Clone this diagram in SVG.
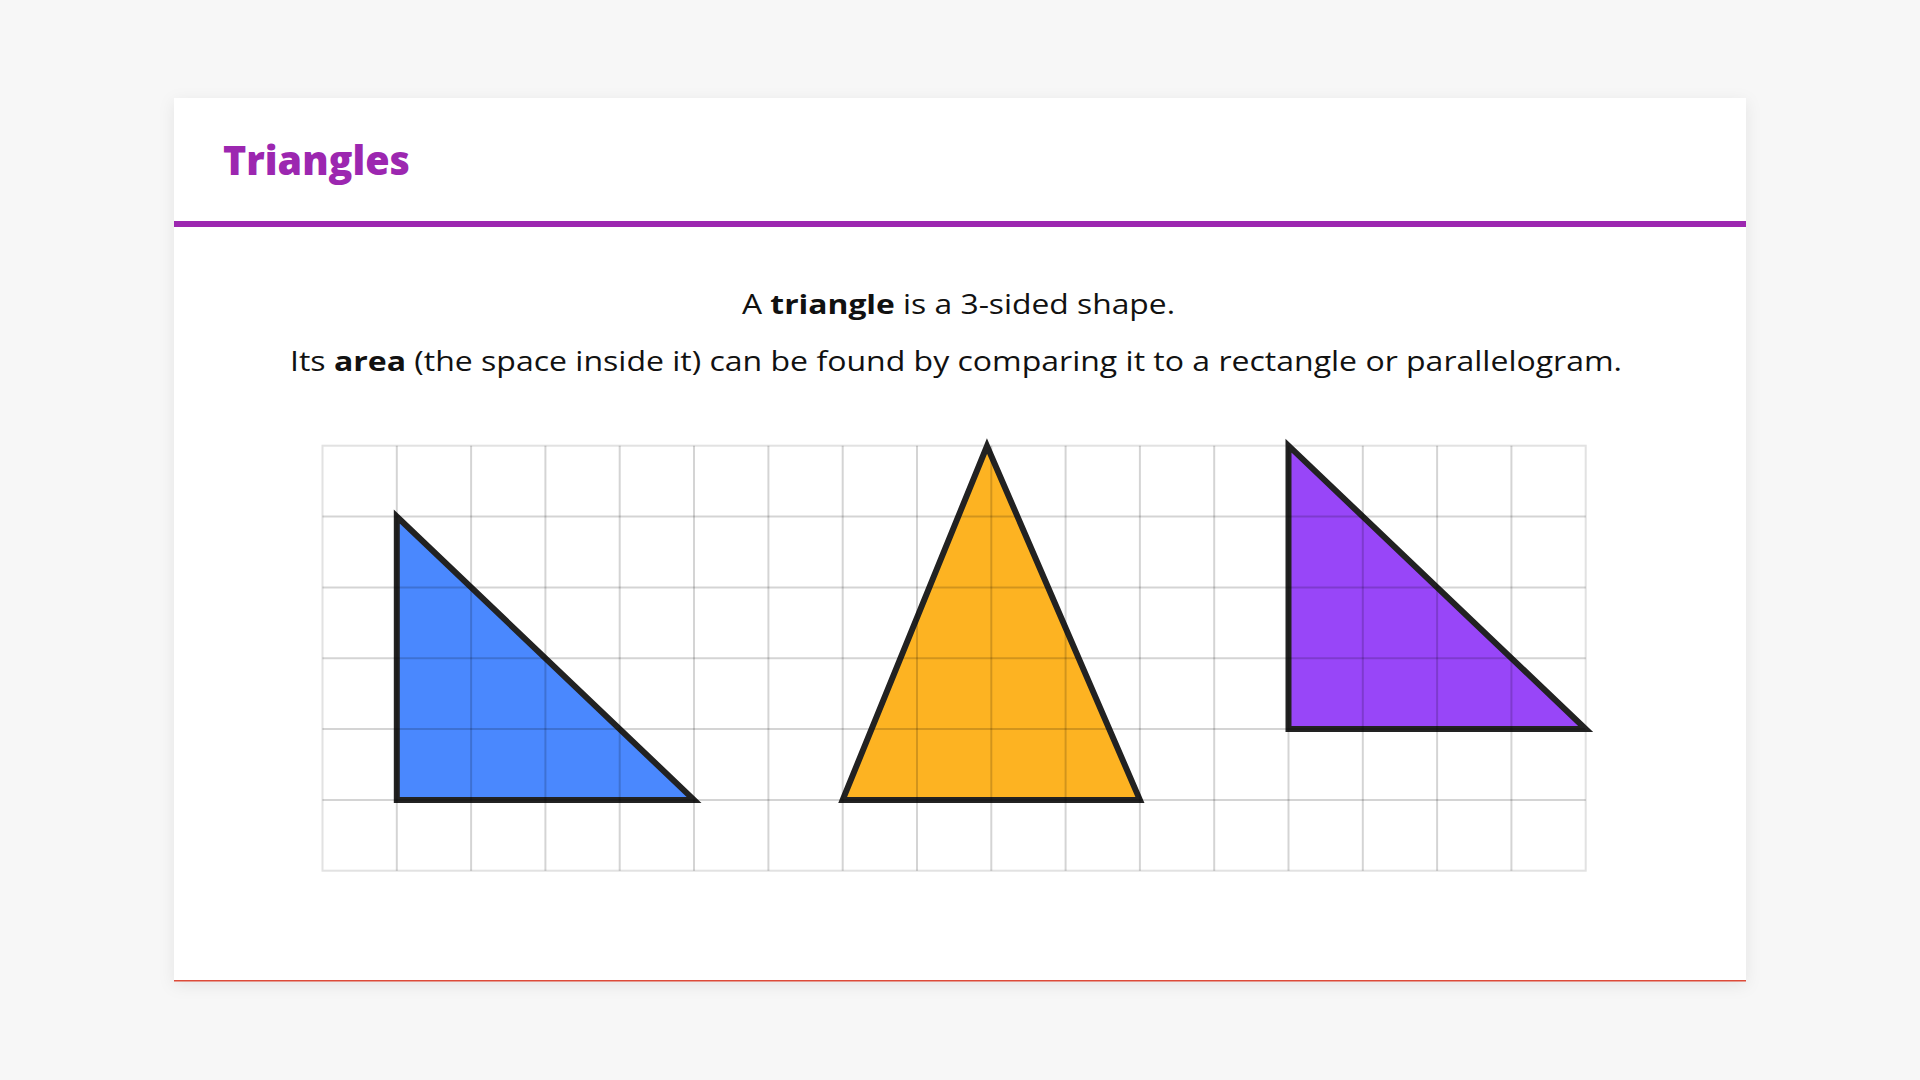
<svg xmlns="http://www.w3.org/2000/svg" width="1920" height="1080" viewBox="0 0 1920 1080">
  <defs>
    <filter id="shadow" x="-5%" y="-5%" width="110%" height="115%">
      <feDropShadow dx="0" dy="4" stdDeviation="8" flood-color="#000" flood-opacity="0.08"/>
    </filter>
    <style>
      .title { font-family: "Open Sans", "Noto Sans", "Liberation Sans", sans-serif; font-weight: 800; font-size: 41px; fill: #9c27b0; }
      .body { font-family: "Open Sans", "Noto Sans", "Liberation Sans", sans-serif; font-size: 27.5px; fill: #111111; }
      .b { font-weight: 700; }
      .tri { stroke: #222222; stroke-width: 6; stroke-linejoin: miter; }
      .grid line { stroke: #000000; stroke-opacity: 0.17; stroke-width: 2; }
    </style>
  </defs>

  <rect x="0" y="0" width="1920" height="1080" fill="#f7f7f7"/>

  <g id="card">
    <rect x="174" y="98" width="1572" height="883" fill="#ffffff" filter="url(#shadow)"/>
    <rect x="174" y="221" width="1572" height="6" fill="#9c27b0"/>
    <rect x="174" y="980" width="1572" height="1.5" fill="#dd4b39"/>
  </g>

  <g id="title">
    <text class="title" x="223" y="175" textLength="187" lengthAdjust="spacingAndGlyphs">Triangles</text>
  </g>

  <g id="intro">
    <text class="body" x="742" y="314" textLength="433" lengthAdjust="spacingAndGlyphs">A <tspan class="b">triangle</tspan> is a 3-sided shape.</text>
    <text class="body" x="290" y="371" textLength="1332" lengthAdjust="spacingAndGlyphs">Its <tspan class="b">area</tspan> (the space inside it) can be found by comparing it to a rectangle or parallelogram.</text>
  </g>

  <g id="grid-frame">
    <rect x="322.5" y="445.7" width="1263.2" height="425" fill="#ffffff" stroke="#e2e2e2" stroke-width="2"/>
  </g>

  <g id="triangle-blue">
    <polygon class="tri" points="396.8,516.5 396.8,799.9 694,799.9" fill="#4a88fe"/>
  </g>
  <g id="triangle-orange">
    <polygon class="tri" points="842.7,799.9 987,446 1139.9,799.9" fill="#fdb322"/>
  </g>
  <g id="triangle-purple">
    <polygon class="tri" points="1288.5,445.7 1288.5,729 1585.7,729" fill="#9846f8"/>
  </g>

  <g id="grid" class="grid">
    <line x1="396.8" y1="445.7" x2="396.8" y2="870.7"/>
    <line x1="471.1" y1="445.7" x2="471.1" y2="870.7"/>
    <line x1="545.4" y1="445.7" x2="545.4" y2="870.7"/>
    <line x1="619.7" y1="445.7" x2="619.7" y2="870.7"/>
    <line x1="694.0" y1="445.7" x2="694.0" y2="870.7"/>
    <line x1="768.4" y1="445.7" x2="768.4" y2="870.7"/>
    <line x1="842.7" y1="445.7" x2="842.7" y2="870.7"/>
    <line x1="917.0" y1="445.7" x2="917.0" y2="870.7"/>
    <line x1="991.3" y1="445.7" x2="991.3" y2="870.7"/>
    <line x1="1065.6" y1="445.7" x2="1065.6" y2="870.7"/>
    <line x1="1139.9" y1="445.7" x2="1139.9" y2="870.7"/>
    <line x1="1214.2" y1="445.7" x2="1214.2" y2="870.7"/>
    <line x1="1288.5" y1="445.7" x2="1288.5" y2="870.7"/>
    <line x1="1362.8" y1="445.7" x2="1362.8" y2="870.7"/>
    <line x1="1437.1" y1="445.7" x2="1437.1" y2="870.7"/>
    <line x1="1511.4" y1="445.7" x2="1511.4" y2="870.7"/>
    <line x1="322.5" y1="516.5" x2="1585.7" y2="516.5"/>
    <line x1="322.5" y1="587.4" x2="1585.7" y2="587.4"/>
    <line x1="322.5" y1="658.2" x2="1585.7" y2="658.2"/>
    <line x1="322.5" y1="729.0" x2="1585.7" y2="729.0"/>
    <line x1="322.5" y1="799.9" x2="1585.7" y2="799.9"/>
  </g>
</svg>
